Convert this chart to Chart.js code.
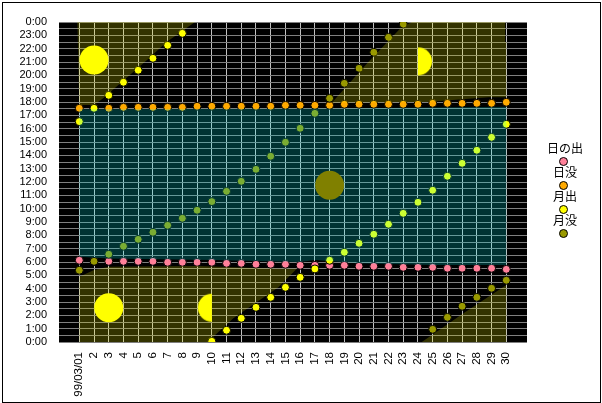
<!DOCTYPE html>
<html>
<head>
<meta charset="utf-8">
<script src="https://cdn.jsdelivr.net/npm/chart.js@4"></script>
<style>
  html, body { margin: 0; padding: 0; background: #fff; }
  #frame { position: absolute; left: 2px; top: 2px; width: 597px; height: 399px; border: 1px solid #000; }
  #chart { position: absolute; left: 0; top: 0; }
  #legend { position: absolute; left: 533px; top: 142px; width: 60px; text-align: center;
            font: 12px "Noto Sans CJK JP", sans-serif; color: #000; }
  #legend .item { height: 24px; position: relative; }
  #legend .name { position: absolute; left: 3px; right: -1px; top: -2px; line-height: 16px; }
  #legend .dot { position: absolute; left: 26px; top: 15px; width: 7px; height: 7px; border: 1px solid #000; border-radius: 50%; }
</style>
</head>
<body>
<canvas id="chart" width="602" height="403"></canvas>
<div id="frame"></div>
<div id="legend"></div>
<script>
var days = [1,2,3,4,5,6,7,8,9,10,11,12,13,14,15,16,17,18,19,20,21,22,23,24,25,26,27,28,29,30];
var dayLabels = ['99/03/01','2','3','4','5','6','7','8','9','10','11','12','13','14','15','16','17','18','19','20','21','22','23','24','25','26','27','28','29','30'];
var names = ['日の出','日没','月出','月没'];
var colors = ['#ff8099','#ffaa00','#ffff00','#999900'];

// hours of the day
var sunrise = [6.13,6.05,6.05,6.05,6.05,6.05,5.98,5.98,5.98,5.98,5.9,5.9,5.83,5.83,5.83,5.75,5.75,5.75,5.75,5.68,5.68,5.68,5.6,5.6,5.6,5.53,5.53,5.53,5.53,5.45];
var sunset = [17.53,17.53,17.53,17.6,17.6,17.6,17.6,17.6,17.68,17.68,17.68,17.68,17.68,17.68,17.75,17.75,17.75,17.75,17.83,17.83,17.83,17.83,17.83,17.83,17.9,17.9,17.9,17.9,17.9,17.98];
var moonrise = [16.53,17.53,18.5,19.48,20.38,21.28,22.25,23.15,null,0.05,0.88,1.78,2.6,3.35,4.1,4.85,5.48,6.13,6.73,7.4,8.08,8.83,9.65,10.48,11.38,12.43,13.4,14.38,15.35,16.33];
var moonset = [5.38,6.05,6.58,7.18,7.7,8.23,8.75,9.28,9.88,10.53,11.3,12.05,12.95,13.93,14.98,16.03,17.15,18.28,19.4,20.53,21.73,22.85,23.85,null,0.95,1.85,2.68,3.35,4.03,4.63];

// daylight band outline
var bandDays = [1,3,10,16,17,20,25,30,30,18,1];
var bandHours = [6.4,6.27,6.15,6.0,6.15,5.9,5.77,5.77,17.64,17.52,17.45];

// moon-up areas
var moonAreaDays = [
  [0.87,1,2,2.6,5.6,6.93,8.86],
  [1,1,2,3,9,14,15.77,14.52,11.46,10.1,9.9],
  [18.15,20.63,22.78,23.58,29.92,29.92,30,30,28.8,24.6],
  [24.26,27.09,30,30]
];
var moonAreaHours = [
  [24,17.78,17.78,18.27,21.15,22.5,24],
  [0,4.9,5.4,5.65,5.7,5.52,5.5,4.1,1.78,0.4,0],
  [17.95,21,23.5,24,24,22.5,22.5,18.35,18.35,18],
  [0,2.15,4.27,0]
];

// moon phase marks
var fullMoonDays = [2,3];
var fullMoonHours = [21.15,2.57];
var newMoonDays = [18];
var newMoonHours = [11.75];
var halfRightDays = [24];
var halfRightHours = [21.05];
var halfLeftDays = [10];
var halfLeftHours = [2.57];

function pairs(xs, ys) {
  return xs.map(function(x, i) { return { x: x, y: ys[i] }; });
}

function halfMoon(right) {
  var c = document.createElement('canvas');
  c.width = 30; c.height = 30;
  var g = c.getContext('2d');
  g.fillStyle = '#ffff00';
  g.beginPath();
  g.arc(15, 15, 14, Math.PI / 2, Math.PI * 1.5, right);
  g.closePath();
  g.fill();
  return c;
}

function dots(i, values) {
  return {
    label: names[i], data: pairs(days, values), showLine: false, fill: false,
    pointRadius: 4, pointBackgroundColor: colors[i], pointBorderColor: '#000', pointBorderWidth: 1
  };
}

function area(data, color) {
  return { data: data, fill: 'shape', backgroundColor: color, borderWidth: 0, pointRadius: 0, tension: 0 };
}

function moonMark(data, style, color) {
  return { data: data, showLine: false, fill: false, pointStyle: style, pointRadius: 14.5,
           pointBackgroundColor: color, pointBorderWidth: 0 };
}

var sets = [dots(0, sunrise), dots(1, sunset), dots(2, moonrise), dots(3, moonset)];
sets.push(area(pairs(bandDays, bandHours), 'rgba(0,255,255,0.2)'));
moonAreaDays.forEach(function(d, i) {
  sets.push(area(pairs(d, moonAreaHours[i]), 'rgba(255,255,0,0.2)'));
});
sets.push(moonMark(pairs(fullMoonDays, fullMoonHours), 'circle', '#ffff00'));
sets.push(moonMark(pairs(newMoonDays, newMoonHours), 'circle', '#808000'));
sets.push(moonMark(pairs(halfRightDays, halfRightHours), halfMoon(true), '#ffff00'));
sets.push(moonMark(pairs(halfLeftDays, halfLeftHours), halfMoon(false), '#ffff00'));
// chart.js paints the first dataset on top, so flip to paint in the order above
sets.forEach(function(s, i) { s.order = sets.length - i; });

var blackPlot = {
  id: 'blackPlot',
  beforeDraw: function(chart) {
    var a = chart.chartArea;
    chart.ctx.fillStyle = '#000';
    chart.ctx.fillRect(a.left, a.top, a.width, a.height);
  }
};

new Chart(document.getElementById('chart').getContext('2d'), {
  type: 'line',
  data: { datasets: sets },
  plugins: [blackPlot],
  options: {
    responsive: false,
    animation: false,
    layout: { padding: { left: 0, top: 22, right: 75, bottom: 0 } },
    plugins: { legend: { display: false }, tooltip: { enabled: false } },
    scales: {
      x: {
        type: 'linear', min: -0.379, max: 31.406,
        afterBuildTicks: function(axis) { axis.ticks = days.map(function(d) { return { value: d }; }); },
        afterFit: function(axis) { axis.height = 61; },
        border: { display: false },
        grid: { color: '#c0c0c0', lineWidth: 1, drawTicks: false },
        ticks: {
          autoSkip: false, minRotation: 90, maxRotation: 90, padding: 10, color: '#000',
          font: { family: 'Liberation Sans', size: 11.5 },
          callback: function(v) { return dayLabels[v - 1]; }
        }
      },
      y: {
        min: 0, max: 24,
        afterFit: function(axis) { axis.width = 59; },
        border: { display: false },
        grid: { color: '#808080', lineWidth: 1, drawTicks: false },
        ticks: {
          stepSize: 0.5, autoSkip: false, padding: 12, color: '#000',
          font: { family: 'Liberation Sans', size: 11 },
          callback: function(v) { return v % 1 ? '' : (v % 24) + ':00'; }
        }
      }
    }
  }
});

var legend = document.getElementById('legend');
names.forEach(function(n, i) {
  var item = document.createElement('div');
  item.className = 'item';
  item.innerHTML = '<div class="name">' + n + '</div><div class="dot" style="background:' + colors[i] + '"></div>';
  legend.appendChild(item);
});
</script>
</body>
</html>
